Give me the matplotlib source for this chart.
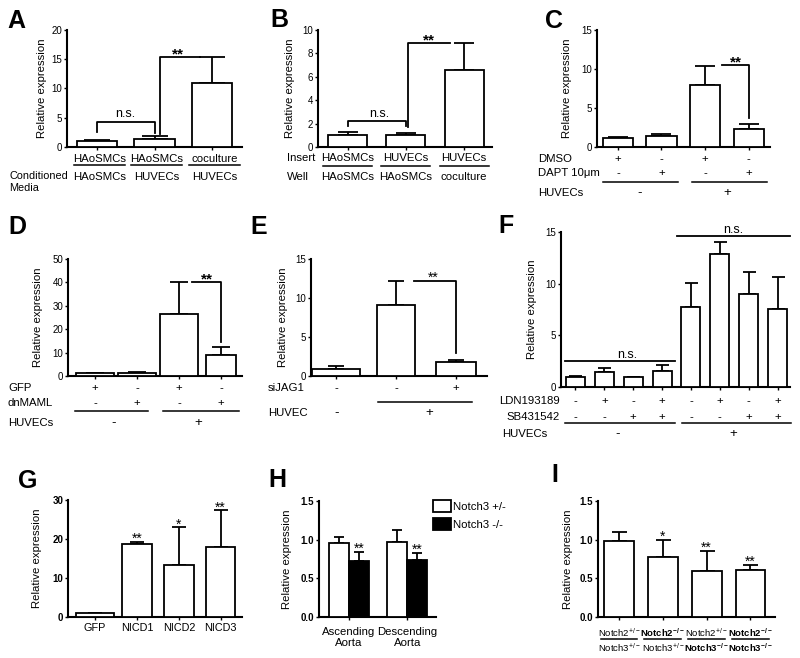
import numpy as np
import matplotlib
matplotlib.use("Agg")
import matplotlib.pyplot as plt
from matplotlib.transforms import blended_transform_factory

plt.rcParams['font.family'] = ['Liberation Sans', 'DejaVu Sans']
plt.rcParams['mathtext.fontset'] = 'custom'
plt.rcParams['mathtext.rm'] = 'Liberation Sans'
plt.rcParams['mathtext.bf'] = 'Liberation Sans:bold'
plt.rcParams['mathtext.it'] = 'Liberation Sans:italic'

# ---------------- data ----------------
A_row1 = ["HAoSMCs", "HAoSMCs", "coculture"]
A_row2 = ["HAoSMCs", "HUVECs", "HUVECs"]
A_vals = [1.1, 1.45, 11.0]
A_errs = [0.15, 0.4, 4.4]

B_insert = ["HAoSMCs", "HUVECs", "HUVECs"]
B_well = ["HAoSMCs", "HAoSMCs", "coculture"]
B_vals = [1.0, 1.05, 6.6]
B_errs = [0.25, 0.18, 2.27]

C_dmso = ["+", "-", "+", "-"]
C_dapt = ["-", "+", "-", "+"]
C_huvec = ["-", "+"]
C_vals = [1.1, 1.4, 8.0, 2.3]
C_errs = [0.22, 0.27, 2.4, 0.68]

D_gfp = ["+", "-", "+", "-"]
D_dnmaml = ["-", "+", "-", "+"]
D_huvec = ["-", "+"]
D_vals = [1.1, 1.2, 26.7, 9.0]
D_errs = [0.3, 0.3, 13.3, 3.5]

E_sijag1 = ["-", "-", "+"]
E_huvec = ["-", "+"]
E_vals = [0.85, 9.1, 1.84]
E_errs = [0.43, 3.1, 0.21]

F_ldn = ["-", "+", "-", "+", "-", "+", "-", "+"]
F_sb = ["-", "-", "+", "+", "-", "-", "+", "+"]
F_huvec = ["-", "+"]
F_vals = [0.97, 1.48, 0.92, 1.58, 7.78, 12.87, 8.97, 7.55]
F_errs = [0.1, 0.33, 0.08, 0.55, 2.26, 1.2, 2.13, 3.13]

G_cats = ["GFP", "NICD1", "NICD2", "NICD3"]
G_vals = [1.05, 18.6, 13.3, 18.0]
G_errs = [0.0, 0.75, 9.7, 9.4]
G_sig = ["", "**", "*", "**"]

H_line1 = ["Ascending", "Descending"]
H_line2 = ["Aorta", "Aorta"]
H_series = ["Notch3 +/-", "Notch3 -/-"]
H_het = [0.96, 0.97]
H_het_err = [0.07, 0.16]
H_ko = [0.72, 0.74]
H_ko_err = [0.12, 0.09]
H_sig = ["**", "**"]

I_notch2 = ["+/-", "-/-", "+/-", "-/-"]
I_notch3 = ["+/-", "+/-", "-/-", "-/-"]
I_vals = [0.98, 0.77, 0.59, 0.61]
I_errs = [0.12, 0.22, 0.26, 0.06]
I_sig = ["", "*", "**", "**"]

# ---------------- helpers ----------------
W, H = 800, 658
fig = plt.figure(figsize=(W / 100, H / 100), dpi=100)
LW = 1.3


def fy(y):
    return 1 - y / H


def panel(l, r, t, b):
    return fig.add_axes([l / W, 1 - b / H, (r - l) / W, (b - t) / H])


def style(ax, xlim, ylim, yticks, ylab_px, xticks, bold=False, ticklabels=None):
    ax.set_xlim(xlim)
    ax.set_ylim(ylim)
    ax.set_yticks(yticks)
    if ticklabels is not None:
        ax.set_yticklabels(ticklabels)
    ax.set_xticks(xticks)
    for s in ("top", "right"):
        ax.spines[s].set_visible(False)
    for s in ("left", "bottom"):
        ax.spines[s].set_linewidth(1.5)
    ax.tick_params(axis="y", length=2.5, width=1.0, pad=1, labelsize=7)
    ax.tick_params(axis="x", length=2.5, width=1.0, labelbottom=False)
    if bold:
        for lab in ax.get_yticklabels():
            lab.set_fontweight("bold")
    ax.set_ylabel("Relative expression", fontsize=8.2, va="center")
    bb = ax.get_position()
    ax.yaxis.set_label_coords(-ylab_px / (bb.width * W), 0.5)


def draw_bars(ax, x, vals, errs, width, cap_px, color="white"):
    bc = ax.bar(x, vals, width=width, color=color, edgecolor="black",
                linewidth=LW, zorder=3)
    ax.errorbar(x, vals, yerr=[np.zeros(len(vals)), errs], fmt="none",
                ecolor="black", elinewidth=LW, capsize=cap_px * 0.36,
                capthick=LW, zorder=2)
    return bc


def row(ax, xs, labels, ypx, size=8.2, **kw):
    tr = blended_transform_factory(ax.transData, fig.transFigure)
    for x, lab in zip(xs, labels):
        ax.text(x, fy(ypx), lab, transform=tr, ha="center", va="center",
                fontsize=size, **kw)


def uline(ax, x0, x1, ypx, lw=1.1):
    tr = blended_transform_factory(ax.transData, fig.transFigure)
    ax.plot([x0, x1], [fy(ypx)] * 2, transform=tr, color="black", lw=lw,
            clip_on=False)


def side(x, ypx, s, ha="left", size=8.2):
    fig.text(x / W, fy(ypx), s, ha=ha, va="center", fontsize=size)


def letter(x, ypx, s):
    fig.text(x / W, fy(ypx), s, ha="left", va="baseline", fontsize=18,
             fontweight="bold")


def stars(ax, x, y, s, size=10, bold=False):
    ax.annotate(s, (x, y), xytext=(0, -1), textcoords="offset points",
                ha="center", va="baseline", fontsize=size,
                fontweight="bold" if bold else "normal", annotation_clip=False)


# ---------------- A ----------------
ax = panel(67, 242, 30, 147)
x = np.arange(len(A_vals))
draw_bars(ax, x, A_vals, A_errs, 0.7, 26)
tops = np.add(A_vals, A_errs)
ax.plot([0, 0, 1, 1], [2.6, 4.3, 4.3, 2.4], color="k", lw=LW, clip_on=False)
ax.text(0.5, 5.1, "n.s.", ha="center", va="baseline", fontsize=9)
ax.plot([1.09, 1.09, 1.79], [2.3, tops[2], tops[2]], color="k", lw=LW, clip_on=False)
stars(ax, 1.4, tops[2], "**", size=11, bold=True)
row(ax, x + 0.04, A_row1, 159)
for xi in x + 0.04:
    uline(ax, xi - 0.44, xi + 0.44, 165)
row(ax, x + 0.04, A_row2, 177)
side(9, 176, "Conditioned", size=7.8)
side(9, 188, "Media", size=7.8)
style(ax, (-0.52, 2.52), (0, 20), [0, 5, 10, 15, 20], 25, x)
letter(7, 28, "A")

# ---------------- B ----------------
ax = panel(318, 492, 30, 147)
x = np.arange(len(B_vals))
draw_bars(ax, x, B_vals, B_errs, 0.67, 20)
tops = np.add(B_vals, B_errs)
ax.plot([0, 0, 1, 1], [1.8, 2.25, 2.25, 1.8], color="k", lw=LW, clip_on=False)
ax.text(0.55, 2.55, "n.s.", ha="center", va="baseline", fontsize=9)
ax.plot([1.04, 1.04, 1.75], [1.7, tops[2], tops[2]], color="k", lw=LW, clip_on=False)
stars(ax, 1.4, tops[2], "**", size=11, bold=True)
row(ax, x, B_insert, 158)
for xi in x:
    uline(ax, xi - 0.42, xi + 0.42, 166)
row(ax, x, B_well, 177)
side(287, 158, "Insert")
side(287, 177, "Well")
style(ax, (-0.51, 2.48), (0, 10), [0, 2, 4, 6, 8, 10], 28, x)
letter(270, 27, "B")

# ---------------- C ----------------
ax = panel(597, 770, 30, 147)
x = np.arange(len(C_vals))
draw_bars(ax, x, C_vals, C_errs, 0.69, 20)
ax.plot([2.38, 3, 3], [10.5, 10.5, 3.7], color="k", lw=LW, clip_on=False)
stars(ax, 2.72, 10.5, "**", size=11, bold=True)
row(ax, x, C_dmso, 159)
row(ax, x, C_dapt, 173)
uline(ax, -0.35, 1.37, 182)
uline(ax, 1.69, 3.43, 182)
row(ax, [0.5, 2.5], C_huvec, 193, size=9.5)
side(538, 159, "DMSO")
side(538, 173, "DAPT 10\u03bcm")
side(538, 193, "HUVECs")
style(ax, (-0.48, 3.49), (0, 15), [0, 5, 10, 15], 30, x)
letter(545, 28, "C")

# ---------------- D ----------------
ax = panel(68, 242, 259, 376)
x = np.arange(len(D_vals))
draw_bars(ax, x, D_vals, D_errs, [0.9, 0.9, 0.9, 0.7], 18)
ax.plot([2.31, 3, 3], [40.3, 40.3, 14.7], color="k", lw=LW, clip_on=False)
stars(ax, 2.67, 40.3, "**", size=11, bold=True)
row(ax, x, D_gfp, 388)
row(ax, x, D_dnmaml, 403)
uline(ax, -0.48, 1.26, 411)
uline(ax, 1.62, 3.43, 411)
row(ax, [0.45, 2.45], D_huvec, 423, size=9.5)
side(8, 388, "GFP")
side(8, 403, "dnMAML")
side(8, 423, "HUVECs")
style(ax, (-0.64, 3.5), (0, 50), [0, 10, 20, 30, 40, 50], 30, x)
letter(8, 234, "D")

# ---------------- E ----------------
ax = panel(311, 487, 259, 376)
x = np.arange(len(E_vals))
draw_bars(ax, x, E_vals, E_errs, [0.8, 0.65, 0.67], 16)
ax.plot([1.3, 2, 2], [12.2, 12.2, 2.9], color="k", lw=LW, clip_on=False)
stars(ax, 1.62, 12.2, "**", size=10)
row(ax, x, E_sijag1, 388)
uline(ax, 0.7, 2.27, 402)
row(ax, [0, 1.55], E_huvec, 413, size=9.5)
side(268, 388, "siJAG1")
side(268, 413, "HUVEC")
style(ax, (-0.42, 2.52), (0, 15), [0, 5, 10, 15], 28, x)
letter(250, 234, "E")

# ---------------- F ----------------
ax = panel(561, 790, 232, 387)
x = np.arange(len(F_vals))
draw_bars(ax, x, F_vals, F_errs, 0.66, 13)
ax.plot([-0.36, 3.44], [2.5, 2.5], color="k", lw=LW, clip_on=False)
ax.text(1.78, 2.8, "n.s.", ha="center", va="baseline", fontsize=9)
ax.plot([3.51, 7.42], [14.6, 14.6], color="k", lw=LW, clip_on=False)
ax.text(5.45, 14.9, "n.s.", ha="center", va="baseline", fontsize=9)
row(ax, x, F_ldn, 401)
row(ax, x, F_sb, 417)
uline(ax, -0.36, 3.44, 423)
uline(ax, 3.68, 7.46, 423)
row(ax, [1.47, 5.45], F_huvec, 434, size=9.5)
side(560, 401, "LDN193189", ha="right")
side(560, 417, "SB431542", ha="right")
side(547, 434, "HUVECs", ha="right")
style(ax, (-0.5, 7.43), (0, 15), [0, 5, 10, 15], 29, x)
letter(498, 233, "F")

# ---------------- G ----------------
ax = panel(68, 242, 500, 617)
x = np.arange(len(G_vals))
draw_bars(ax, x, G_vals, G_errs, [0.9, 0.72, 0.72, 0.7], 14)
tops = np.add(G_vals, G_errs)
for xi, t, s in zip(x, tops, G_sig):
    if s:
        stars(ax, xi, t, s, size=10)
row(ax, x, G_cats, 628, size=7.8)
style(ax, (-0.65, 3.51), (0, 30), [0, 10, 20, 30], 31, x, bold=True)
letter(18, 488, "G")

# ---------------- H ----------------
ax = panel(319, 436, 501, 617)
x = np.arange(len(H_het))
b1 = draw_bars(ax, x - 0.17, H_het, H_het_err, 0.34, 10, color="white")
b2 = draw_bars(ax, x + 0.17, H_ko, H_ko_err, 0.34, 10, color="black")
tops = np.add(H_ko, H_ko_err)
for xi, t, s in zip(x + 0.17, tops, H_sig):
    stars(ax, xi, t + 0.01, s, size=10)
row(ax, x, H_line1, 632)
row(ax, x, H_line2, 643)
ax.legend([b1, b2], H_series, loc="upper left",
          bbox_to_anchor=(433 / W, fy(500)), bbox_transform=fig.transFigure,
          frameon=False, fontsize=8.2, handlelength=1.6, handleheight=1.25,
          handletextpad=0.15, labelspacing=0.5, borderpad=0, borderaxespad=0)
style(ax, (-0.51, 1.49), (0, 1.5), [0, 0.5, 1.0, 1.5], 32, x, bold=True,
      ticklabels=["0.0", "0.5", "1.0", "1.5"])
letter(268, 487, "H")

# ---------------- I ----------------
ax = panel(598, 775, 501, 617)
x = np.arange(len(I_vals))
draw_bars(ax, x, I_vals, I_errs, 0.68, 15)
tops = np.add(I_vals, I_errs)
for xi, t, s in zip(x, tops, I_sig):
    if s:
        stars(ax, xi, t + 0.01, s, size=10)


def nlabel(gene, geno):
    if geno == "-/-":
        return r"$\mathbf{%s^{%s}}$" % (gene, geno)
    return r"$\mathregular{%s^{%s}}$" % (gene, geno)


row(ax, x, [nlabel("Notch2", g) for g in I_notch2], 633, size=6.8)
for xi in x:
    uline(ax, xi - 0.42, xi + 0.42, 639)
row(ax, x, [nlabel("Notch3", g) for g in I_notch3], 648, size=6.8)
style(ax, (-0.48, 3.56), (0, 1.5), [0, 0.5, 1.0, 1.5], 30, x, bold=True,
      ticklabels=["0.0", "0.5", "1.0", "1.5"])
letter(551, 482, "I")

fig.savefig("out.png", dpi=100)
